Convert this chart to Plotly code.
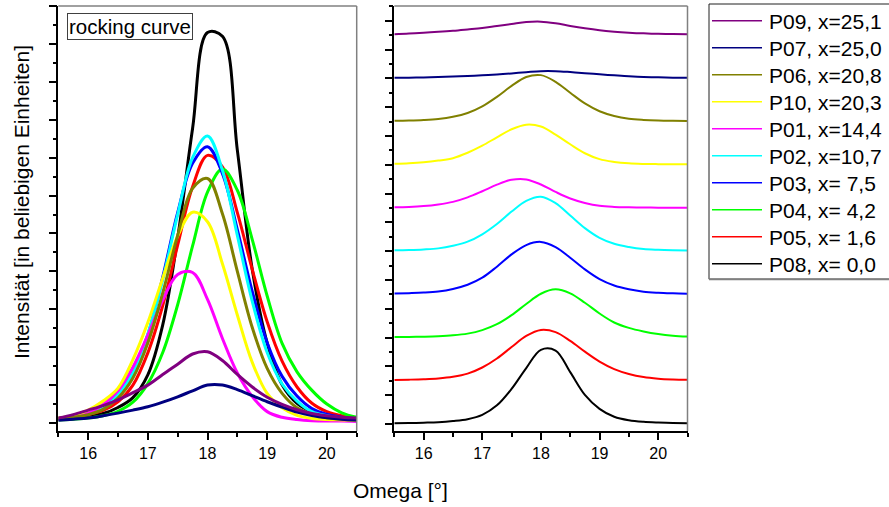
import plotly.graph_objects as go

W, H = 889, 507
FONT = "Liberation Sans, Arial, sans-serif"

# ---- data ----
omega = [15.5, 15.75, 16.0, 16.25, 16.5, 16.75, 17.0, 17.25, 17.5, 17.75, 18.0,
         18.25, 18.5, 18.75, 19.0, 19.25, 19.5, 19.75, 20.0, 20.25, 20.5]

names = ["P09, x=25,1", "P07, x=25,0", "P06, x=20,8", "P10, x=20,3", "P01, x=14,4",
         "P02, x=10,7", "P03, x= 7,5", "P04, x= 4,2", "P05, x= 1,6", "P08, x= 0,0"]

p09 = [0.13, 0.22, 0.34, 0.46, 0.61, 0.80, 1.00, 1.28, 1.55, 1.82, 1.88,
       1.65, 1.28, 0.95, 0.68, 0.49, 0.35, 0.25, 0.19, 0.15, 0.13]
p07 = [0.07, 0.10, 0.13, 0.19, 0.26, 0.34, 0.43, 0.55, 0.69, 0.85, 1.00,
       1.00, 0.88, 0.72, 0.56, 0.42, 0.29, 0.20, 0.14, 0.10, 0.08]
p06 = [0.11, 0.15, 0.22, 0.36, 0.66, 1.19, 2.11, 3.43, 4.95, 6.19, 6.45,
       5.52, 4.00, 2.52, 1.44, 0.78, 0.40, 0.23, 0.14, 0.10, 0.08]
p10 = [0.13, 0.20, 0.34, 0.58, 0.92, 1.67, 2.65, 3.82, 4.93, 5.56, 5.31,
       4.20, 2.85, 1.60, 0.78, 0.40, 0.20, 0.12, 0.09, 0.08, 0.07]
p01 = [0.09, 0.14, 0.26, 0.49, 0.85, 1.47, 2.32, 3.24, 3.92, 3.97, 3.26,
       2.23, 1.32, 0.70, 0.30, 0.15, 0.09, 0.06, 0.05, 0.05, 0.04]
p02 = [0.12, 0.16, 0.24, 0.39, 0.75, 1.32, 2.35, 3.78, 5.50, 7.00, 7.57,
       6.67, 4.95, 3.21, 1.86, 1.03, 0.58, 0.30, 0.19, 0.13, 0.09]
p03 = [0.12, 0.17, 0.25, 0.41, 0.76, 1.34, 2.32, 3.85, 5.55, 6.85, 7.29,
       6.58, 5.10, 3.47, 2.12, 1.23, 0.71, 0.38, 0.23, 0.15, 0.10]
p04 = [0.08, 0.10, 0.13, 0.19, 0.31, 0.55, 1.04, 1.86, 3.12, 4.67, 6.09,
       6.70, 6.14, 4.84, 3.35, 2.10, 1.35, 0.86, 0.50, 0.27, 0.15]
p05 = [0.12, 0.16, 0.22, 0.33, 0.56, 1.00, 1.85, 3.10, 4.69, 6.23, 7.06,
       6.76, 5.55, 4.05, 2.67, 1.63, 0.95, 0.52, 0.30, 0.19, 0.13]
p08 = [0.10, 0.13, 0.18, 0.25, 0.41, 0.67, 1.27, 2.59, 4.88, 7.77, 10.30,
       10.20, 7.20, 4.05, 2.11, 1.01, 0.52, 0.30, 0.20, 0.14, 0.10]

series = [p09, p07, p06, p10, p01, p02, p03, p04, p05, p08]
colors = ["#800080", "#000080", "#808000", "#FFFF00", "#FF00FF",
          "#00FFFF", "#0000FF", "#00FF00", "#FF0000", "#000000"]
offset_step = 6  # vertical shift between stacked curves (right panel)


# ---- layout geometry, given in window pixels ----
def fx(p):
    return p / W


def fy(p):
    return 1 - p / H


TOP, BOT = 6, 431
L1, R1 = 58.3, 356.7
L2, R2 = 394.3, 687.5

fig = go.Figure()
n = len(series)
for i in reversed(range(n)):
    fig.add_trace(go.Scatter(x=omega, y=series[i], mode="lines", name=names[i],
                             line=dict(color=colors[i], width=3, shape="spline"),
                             xaxis="x", yaxis="y", showlegend=False))
for i in reversed(range(n)):
    off = (n - 1 - i) * offset_step
    fig.add_trace(go.Scatter(x=omega, y=[v + off for v in series[i]], mode="lines",
                             name=names[i],
                             line=dict(color=colors[i], width=2, shape="spline"),
                             xaxis="x2", yaxis="y2", showlegend=False))

xcommon = dict(range=[15.5, 20.5], tickvals=[16, 17, 18, 19, 20], ticks="outside",
               ticklen=7, tickwidth=1.5, tickcolor="black", showline=True,
               linecolor="black", linewidth=1.5, showgrid=False, zeroline=False,
               tickfont=dict(family=FONT, size=16, color="black"),
               minor=dict(dtick=0.5, tick0=15.5, ticks="outside", ticklen=4,
                          tickwidth=1.5, tickcolor="black", showgrid=False))
ycommon = dict(ticks="outside", ticklen=8, tickwidth=1.5, tickcolor="black",
               showline=True, linecolor="black", linewidth=1.5, showgrid=False,
               zeroline=False, showticklabels=False)

fig.update_layout(
    width=W, height=H, margin=dict(l=0, r=0, t=0, b=0),
    paper_bgcolor="white", plot_bgcolor="white", showlegend=False,
    xaxis=dict(domain=[fx(L1), fx(R1)], anchor="y", **xcommon),
    yaxis=dict(domain=[fy(BOT), fy(TOP)], anchor="x", range=[-0.211, 11.001],
               tick0=0, dtick=1,
               minor=dict(dtick=0.5, ticks="outside", ticklen=4, tickwidth=1.5,
                          tickcolor="black", showgrid=False), **ycommon),
    xaxis2=dict(domain=[fx(L2), fx(R2)], anchor="y2", **xcommon),
    yaxis2=dict(domain=[fy(BOT), fy(TOP)], anchor="x2", range=[-0.97, 58.05],
                tick0=0, dtick=4,
                minor=dict(dtick=2, ticks="outside", ticklen=4, tickwidth=1.5,
                           tickcolor="black", showgrid=False), **ycommon),
)

shapes = []
# grey top / right frame of both panels
for (l, r) in [(L1, R1), (L2, R2)]:
    shapes.append(dict(type="line", xref="paper", yref="paper", x0=fx(l), x1=fx(r),
                       y0=fy(TOP), y1=fy(TOP), line=dict(color="#808080", width=1.5)))
    shapes.append(dict(type="line", xref="paper", yref="paper", x0=fx(r), x1=fx(r),
                       y0=fy(TOP), y1=fy(BOT), line=dict(color="#808080", width=1.5)))

annotations = [
    dict(text="rocking curve", x=fx(130), y=fy(26), xref="paper", yref="paper",
         showarrow=False, xanchor="center", yanchor="middle",
         font=dict(family=FONT, size=20.5, color="black"),
         bordercolor="#404040", borderwidth=1, borderpad=1, bgcolor="white"),
    dict(text="Omega [°]", x=fx(400), y=fy(490), xref="paper", yref="paper",
         showarrow=False, xanchor="center", yanchor="middle",
         font=dict(family=FONT, size=21, color="black")),
    dict(text="Intensität [in beliebigen Einheiten]", x=fx(21), y=fy(202),
         xref="paper", yref="paper", showarrow=False, textangle=-90,
         xanchor="center", yanchor="middle",
         font=dict(family=FONT, size=21, color="black")),
]

# custom legend box
LEG_TOP, LEG_ROW0, LEG_STEP = 4, 20.7, 27.0
LEG_BOT = LEG_ROW0 + (n - 1) * LEG_STEP + 15.5
shapes.append(dict(type="rect", xref="paper", yref="paper", x0=fx(709), x1=fx(W + 5),
                   y0=fy(LEG_BOT), y1=fy(LEG_TOP),
                   line=dict(color="#202020", width=1), fillcolor="white", layer="below"))
shapes.append(dict(type="line", xref="paper", yref="paper", x0=fx(709), x1=fx(W + 5),
                   y0=fy(LEG_BOT), y1=fy(LEG_BOT),
                   line=dict(color="#808080", width=2)))
for i in range(n):
    yy = LEG_ROW0 + i * LEG_STEP
    shapes.append(dict(type="line", xref="paper", yref="paper", x0=fx(712), x1=fx(762),
                       y0=fy(yy), y1=fy(yy), line=dict(color=colors[i], width=1.5)))
    annotations.append(dict(text=names[i], x=fx(767), y=fy(yy + 0.5), xref="paper",
                            yref="paper", showarrow=False, xanchor="left",
                            yanchor="middle",
                            font=dict(family=FONT, size=21, color="black")))

fig.update_layout(shapes=shapes, annotations=annotations)
fig.write_html("out.html", config={"displayModeBar": False},
               post_script="document.body.style.margin='0px';"
                           "document.body.style.overflow='hidden';")
